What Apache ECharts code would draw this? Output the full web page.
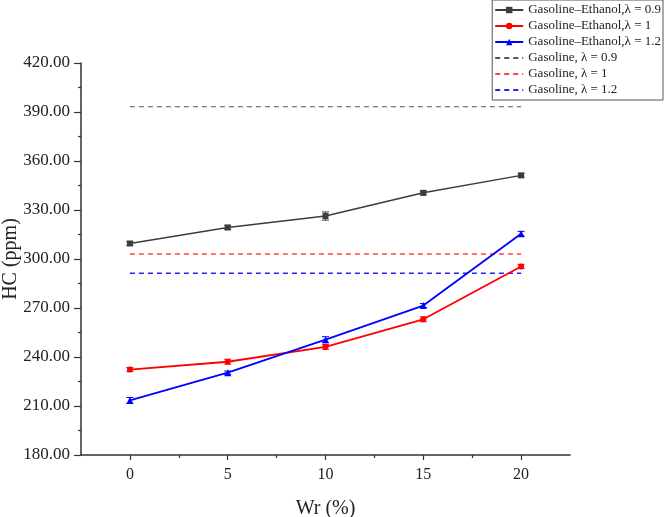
<!DOCTYPE html>
<html><head><meta charset="utf-8">
<script src="https://cdn.jsdelivr.net/npm/echarts@6/dist/echarts.min.js"></script>
<style>html,body{margin:0;padding:0;background:#fff}#c{width:666px;height:517px}</style>
</head><body><div id="c"></div>
<script>
var xVals = [0, 5, 10, 15, 20];
var blend09 = [309.5, 319.3, 326.3, 340.5, 351.2];
var blend10 = [232.3, 237.1, 246.2, 263.1, 295.4];
var blend12 = [213.4, 230.4, 250.6, 271.5, 315.4];
var err09 = [1.2, 1.3, 2.5, 1.2, 1.2];
var err10 = [1.3, 1.5, 1.5, 1.5, 1.3];
var err12 = [1.8, 1.0, 1.8, 1.2, 1.5];
var gas09 = 393.2, gas10 = 303.1, gas12 = 291.3;
var names = ['Gasoline\u2013Ethanol,\u03bb = 0.9', 'Gasoline\u2013Ethanol,\u03bb = 1', 'Gasoline\u2013Ethanol,\u03bb = 1.2',
             'Gasoline, \u03bb = 0.9', 'Gasoline, \u03bb = 1', 'Gasoline, \u03bb = 1.2'];

function pts(ys){ return xVals.map(function(x,i){return [x, ys[i]];}); }
function flat(v){ return [[xVals[0], v],[xVals[xVals.length-1], v]]; }
function errData(ys, es){ return xVals.map(function(x,i){return [x, ys[i], es[i]];}); }
function errSeries(ys, es, color){
  return {
    type: 'custom', silent: true, z: 3,
    data: errData(ys, es),
    renderItem: function(params, api){
      var x = api.value(0), y = api.value(1), e = api.value(2);
      var top = api.coord([x, y + e]), bot = api.coord([x, y - e]);
      var w = 3.5;
      var st = {stroke: color, lineWidth: 1};
      return {type: 'group', children: [
        {type:'line', shape:{x1:top[0], y1:top[1], x2:bot[0], y2:bot[1]}, style: st},
        {type:'line', shape:{x1:top[0]-w, y1:top[1], x2:top[0]+w, y2:top[1]}, style: st},
        {type:'line', shape:{x1:bot[0]-w, y1:bot[1], x2:bot[0]+w, y2:bot[1]}, style: st}
      ]};
    }
  };
}
var font = 'Liberation Serif';
var chart = echarts.init(document.getElementById('c'), null, {renderer: 'canvas'});
chart.setOption({
  animation: false,
  textStyle: {fontFamily: font},
  grid: {left: 81, right: 96, top: 63, bottom: 62, containLabel: false, outerBoundsMode: 'none'},
  legend: {
    data: [
      {name: names[0]}, {name: names[1]}, {name: names[2]},
      {name: names[3], itemStyle: {opacity: 0}},
      {name: names[4], itemStyle: {opacity: 0}},
      {name: names[5], itemStyle: {opacity: 0}}
    ],
    orient: 'vertical', right: 3, top: 0,
    borderColor: '#555', borderWidth: 1, padding: [2, 2, 2, 2],
    itemWidth: 28, itemHeight: 8, itemGap: 0,
    textStyle: {fontFamily: font, fontSize: 13, color: '#222', lineHeight: 16}
  },
  xAxis: [{
    type: 'value', min: -2.5, max: 22.5,
    name: 'Wr (%)', nameLocation: 'middle', nameGap: 44, nameMoveOverlap: false,
    nameTextStyle: {fontFamily: font, fontSize: 20, color: '#222'},
    axisLine: {show: true, onZero: false, lineStyle: {color: '#333', width: 1.5}},
    axisTick: {show: true, customValues: xVals, length: 5, lineStyle: {color: '#333', width: 1.2}},
    axisLabel: {customValues: xVals, fontFamily: font, fontSize: 16, color: '#222', margin: 12},
    splitLine: {show: false}
  }, {
    type: 'value', min: -2.5, max: 22.5, position: 'bottom',
    axisLine: {show: false, onZero: false},
    axisTick: {show: true, customValues: [2.5, 7.5, 12.5, 17.5], length: 3, lineStyle: {color: '#333', width: 1.2}},
    axisLabel: {show: false}, splitLine: {show: false}
  }],
  yAxis: {
    type: 'value', min: 180, max: 420, interval: 30,
    name: 'HC (ppm)', nameLocation: 'middle', nameGap: 60, nameRotate: 90, nameMoveOverlap: false,
    nameTextStyle: {fontFamily: font, fontSize: 20, color: '#222'},
    axisLine: {show: true, onZero: false, lineStyle: {color: '#333', width: 1.5}},
    axisTick: {show: true, length: 7, lineStyle: {color: '#333', width: 1.2}},
    minorTick: {show: true, splitNumber: 2, length: 3, lineStyle: {color: '#333', width: 1.2}},
    axisLabel: {fontFamily: font, fontSize: 17, color: '#222', margin: 11,
      formatter: function(v){ return v.toFixed(2); }},
    splitLine: {show: false}
  },
  series: [
    {name: names[0], type: 'line', data: pts(blend09), symbol: 'rect', symbolSize: 6,
     itemStyle: {color: '#3c3c3c'}, lineStyle: {color: '#3c3c3c', width: 1.5}, z: 4},
    {name: names[1], type: 'line', data: pts(blend10), symbol: 'circle', symbolSize: 6,
     itemStyle: {color: '#ff0000'}, lineStyle: {color: '#ff0000', width: 1.8}, z: 4},
    {name: names[2], type: 'line', data: pts(blend12), symbol: 'triangle', symbolSize: 7,
     itemStyle: {color: '#0000ff'}, lineStyle: {color: '#0000ff', width: 1.8}, z: 4},
    {name: names[3], type: 'line', data: flat(gas09), symbol: 'none',
     itemStyle: {color: '#555'}, lineStyle: {color: '#555', width: 1.2, type: [5, 4]}},
    {name: names[4], type: 'line', data: flat(gas10), symbol: 'none',
     itemStyle: {color: '#ff4444'}, lineStyle: {color: '#ff4444', width: 1.5, type: [5, 4]}},
    {name: names[5], type: 'line', data: flat(gas12), symbol: 'none',
     itemStyle: {color: '#2222ff'}, lineStyle: {color: '#2222ff', width: 1.5, type: [5, 4]}},
    errSeries(blend09, err09, '#3c3c3c'),
    errSeries(blend10, err10, '#ff0000'),
    errSeries(blend12, err12, '#0000ff')
  ]
});
</script></body></html>
